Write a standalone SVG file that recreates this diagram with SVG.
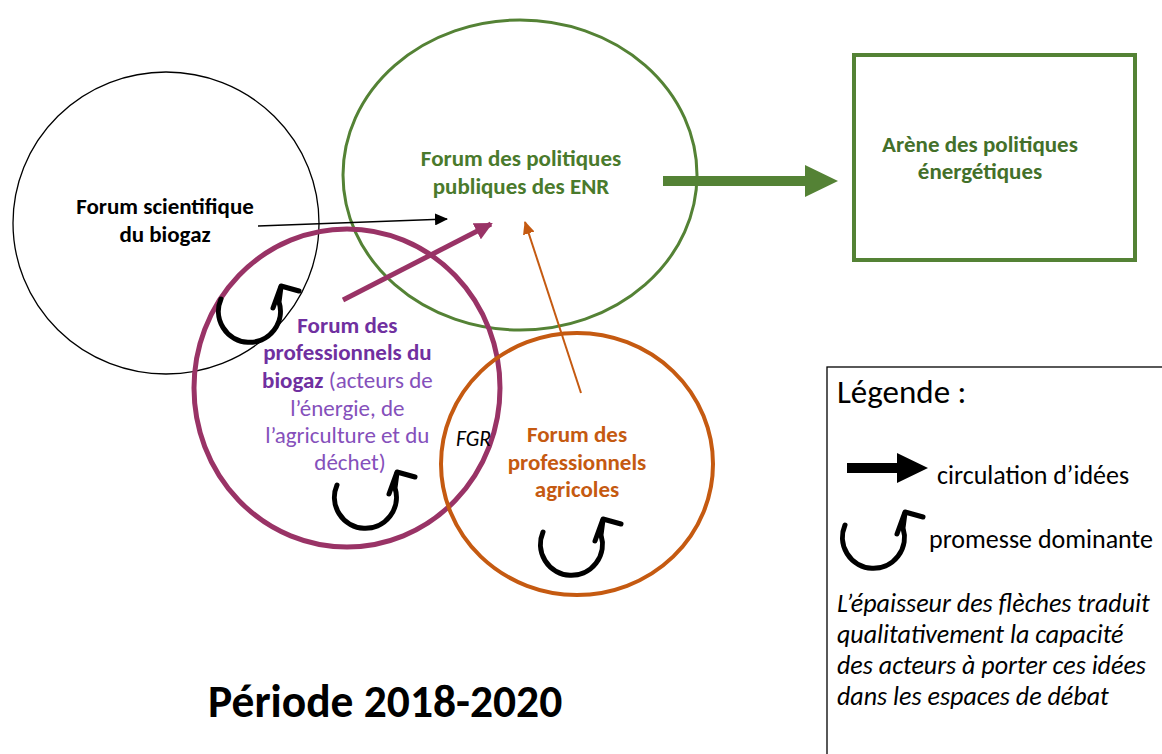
<svg xmlns="http://www.w3.org/2000/svg" width="1162" height="754" viewBox="0 0 1162 754">
<style>
text{font-family:Carlito,Lato,"Liberation Sans",sans-serif}
.b{font-weight:bold}
.c{text-anchor:middle}
.n{font-size:23px}
.lg{font-size:26px;fill:#000}
.it{font-style:italic}
.promise path{fill:none;stroke:#000;stroke-width:5;stroke-linecap:round;stroke-linejoin:round}
</style>
<defs>
<marker id="hb" markerUnits="userSpaceOnUse" markerWidth="14" markerHeight="12" refX="12" refY="6" orient="auto"><path d="M0,0 L13,6 L0,12 Z" fill="#000"/></marker>
<marker id="hp" markerUnits="userSpaceOnUse" markerWidth="20" markerHeight="18" refX="16" refY="9" orient="auto"><path d="M0,0 L18,9 L0,18 Z" fill="#993366"/></marker>
<marker id="ho" markerUnits="userSpaceOnUse" markerWidth="14" markerHeight="12" refX="12" refY="6" orient="auto"><path d="M0,0 L13,6 L0,12 Z" fill="#c55a11"/></marker>
<g id="promise" class="promise"><path d="M-29,-12 A31,31 0 1,0 29,-9 L31,-24"/><path d="M23,-3 L31,-25 L49,-20"/></g>
</defs>
<rect width="1162" height="754" fill="#fff"/>

<g id="forum-scientifique">
<ellipse cx="166" cy="223" rx="153" ry="151" fill="none" stroke="#000" stroke-width="1.3"/>
<text class="b c n" x="165" y="214" fill="#000">Forum scientifique</text>
<text class="b c n" x="165" y="242" fill="#000">du biogaz</text>
</g>

<g id="forum-politiques">
<ellipse cx="520" cy="175" rx="177" ry="155" fill="none" stroke="#548235" stroke-width="3"/>
<text class="b c n" x="521" y="166" fill="#4a7a2c">Forum des politiques</text>
<text class="b c n" x="521" y="194" fill="#4a7a2c">publiques des ENR</text>
</g>

<g id="forum-professionnels-biogaz">
<ellipse cx="347" cy="388" rx="153" ry="159" fill="none" stroke="#993366" stroke-width="5"/>
<text class="c n" fill="#7030a0">
<tspan class="b" x="350" y="333">Forum des</tspan>
<tspan class="b" x="350" y="360">professionnels du</tspan>
<tspan x="350" y="388" fill="#8550bb"><tspan class="b" fill="#7030a0">biogaz</tspan> (acteurs de</tspan>
<tspan x="350" y="416" fill="#8550bb">l’énergie, de</tspan>
<tspan x="350" y="443" fill="#8550bb">l’agriculture et du</tspan>
<tspan x="350" y="470" fill="#8550bb">déchet)</tspan>
</text>
</g>

<g id="forum-professionnels-agricoles">
<ellipse cx="577" cy="464" rx="136" ry="131" fill="none" stroke="#c55a11" stroke-width="4"/>
<text class="b c n" x="577" y="442" fill="#c55a11">Forum des</text>
<text class="b c n" x="577" y="470" fill="#c55a11">professionnels</text>
<text class="b c n" x="577" y="497" fill="#c55a11">agricoles</text>
</g>

<g id="fgr">
<text class="it" x="456" y="446" font-size="21.5" fill="#000">FGR</text>
</g>

<g id="arene">
<rect x="854" y="55" width="281" height="205" fill="none" stroke="#548235" stroke-width="4"/>
<text class="b c n" x="980" y="152" fill="#43702a">Arène des politiques</text>
<text class="b c n" x="980" y="179" fill="#43702a">énergétiques</text>
</g>

<g id="promesses">
<use href="#promise" x="250" y="311"/>
<use href="#promise" x="366" y="497"/>
<use href="#promise" x="572" y="544"/>
</g>

<g id="connectors">
<line x1="258" y1="226" x2="447" y2="219" stroke="#000" stroke-width="1.3" marker-end="url(#hb)"/>
<line x1="343" y1="300" x2="491" y2="224" stroke="#993366" stroke-width="5" marker-end="url(#hp)"/>
<line x1="581" y1="393" x2="525" y2="222" stroke="#c55a11" stroke-width="2" marker-end="url(#ho)"/>
<polygon points="663,176 805,176 805,165 838,181 805,197 805,186 663,186" fill="#548235"/>
</g>

<g id="legende">
<rect x="827" y="367" width="345" height="400" fill="none" stroke="#000" stroke-width="1.3"/>
<text x="837" y="403" font-size="33" fill="#000">Légende :</text>
<polygon points="847,463 897,463 897,453 928,468 897,483 897,473 847,473" fill="#000"/>
<text class="lg" x="937" y="484">circulation d’idées</text>
<use href="#promise" x="874" y="537"/>
<text class="lg" x="929" y="548">promesse dominante</text>
<text class="lg it" x="837" y="612">L’épaisseur des flèches traduit</text>
<text class="lg it" x="837" y="643">qualitativement la capacité</text>
<text class="lg it" x="837" y="674">des acteurs à porter ces idées</text>
<text class="lg it" x="837" y="705">dans les espaces de débat</text>
</g>

<g id="titre">
<text class="b" x="208" y="717" font-size="45.5" fill="#000">Période 2018-2020</text>
</g>
</svg>
